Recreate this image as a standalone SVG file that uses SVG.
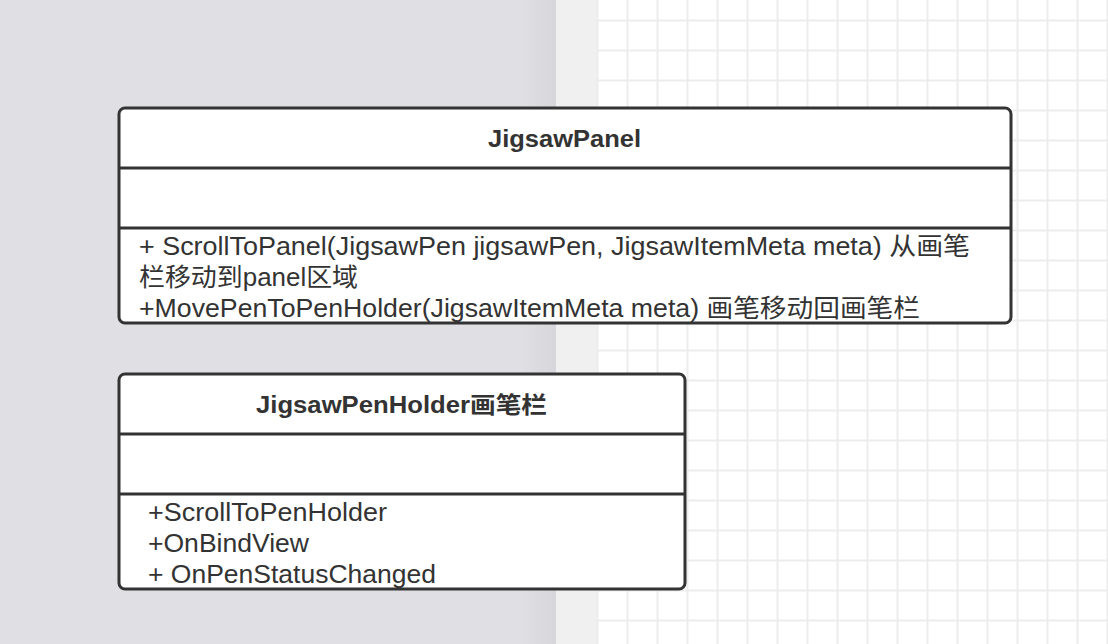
<svg xmlns="http://www.w3.org/2000/svg" width="1108" height="644" viewBox="0 0 1108 644">
  <style>
    .box { fill: #ffffff; stroke: #333333; stroke-width: 3; }
    .div { stroke: #333333; stroke-width: 3; }
    .title { font-family: "Liberation Sans", "Noto Sans CJK SC", sans-serif; font-weight: bold; font-size: 23px; fill: #333333; }
    .body { font-family: "Liberation Sans", "Noto Sans CJK SC", sans-serif; font-size: 25px; fill: #333333; }
  </style>
  <defs>
    <pattern id="grid" patternUnits="userSpaceOnUse" x="596.5" y="19.5" width="30" height="30">
      <rect x="0" y="0" width="2" height="30" fill="#ececec"/>
      <rect x="0" y="0" width="30" height="2" fill="#ececec"/>
    </pattern>
    <linearGradient id="edge" x1="0" y1="0" x2="1" y2="0">
      <stop offset="0" stop-color="#e0e0e4"/>
      <stop offset="1" stop-color="#d7d7db"/>
    </linearGradient>
  </defs>

  <!-- background -->
  <rect x="0" y="0" width="1108" height="644" fill="#ffffff"/>
  <rect x="0" y="0" width="520" height="644" fill="#e0e0e4"/>
  <rect x="520" y="0" width="36" height="644" fill="url(#edge)"/>
  <rect x="556" y="0" width="41" height="644" fill="#f0f0f0"/>
  <rect x="596" y="0" width="512" height="644" fill="url(#grid)"/>

  <g id="connectors"></g>

  <g id="node-jigsawpanel">
    <rect class="box" x="119" y="108" width="892" height="215" rx="6"/>
    <line class="div" x1="119" y1="168" x2="1011" y2="168"/>
    <line class="div" x1="119" y1="228" x2="1011" y2="228"/>
    <text class="title" x="488" y="147" textLength="153" lengthAdjust="spacingAndGlyphs">JigsawPanel</text>
    <text class="body" x="139" y="255" textLength="831" lengthAdjust="spacingAndGlyphs">+ ScrollToPanel(JigsawPen jigsawPen, JigsawItemMeta meta) 从画笔</text>
    <text class="body" x="139" y="286" textLength="219" lengthAdjust="spacingAndGlyphs">栏移动到panel区域</text>
    <text class="body" x="139" y="317" textLength="781" lengthAdjust="spacingAndGlyphs">+MovePenToPenHolder(JigsawItemMeta meta) 画笔移动回画笔栏</text>
  </g>

  <g id="node-jigsawpenholder">
    <rect class="box" x="119" y="374" width="566" height="215" rx="6"/>
    <line class="div" x1="119" y1="434" x2="685" y2="434"/>
    <line class="div" x1="119" y1="494" x2="685" y2="494"/>
    <text class="title" x="256" y="413" textLength="291" lengthAdjust="spacingAndGlyphs">JigsawPenHolder画笔栏</text>
    <text class="body" x="148" y="521" textLength="239" lengthAdjust="spacingAndGlyphs">+ScrollToPenHolder</text>
    <text class="body" x="148" y="552" textLength="161" lengthAdjust="spacingAndGlyphs">+OnBindView</text>
    <text class="body" x="148" y="583" textLength="288" lengthAdjust="spacingAndGlyphs">+ OnPenStatusChanged</text>
  </g>
</svg>
